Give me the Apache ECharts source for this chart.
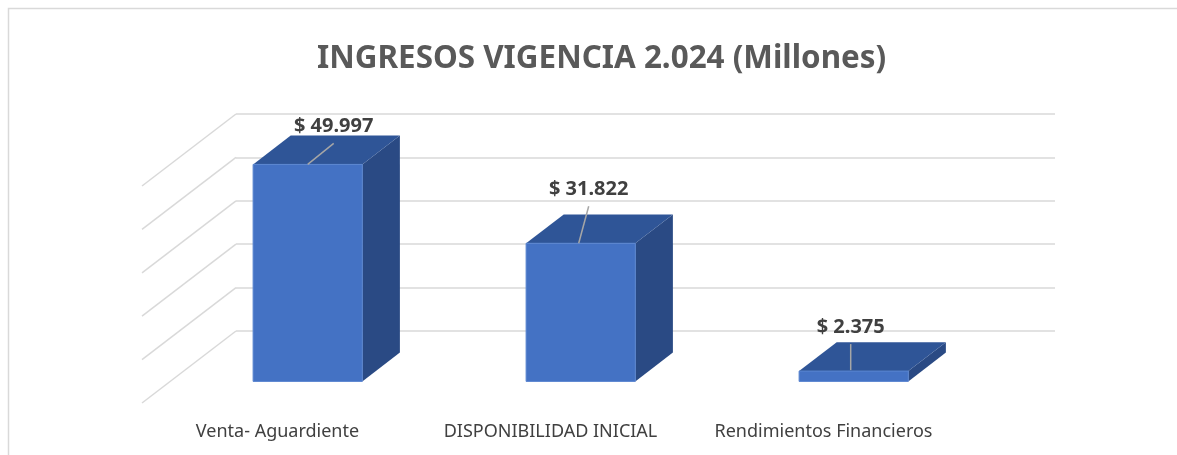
<!DOCTYPE html>
<html>
<head>
<meta charset="utf-8">
<script src="https://cdn.jsdelivr.net/npm/echarts@6/dist/echarts.min.js"></script>
<style>
  html, body { margin: 0; padding: 0; background: #fff; }
  #main { width: 1177px; height: 455px; }
</style>
</head>
<body>
<div id="main"></div>
<script>
// datos del grafico
const categories = ['Venta- Aguardiente', 'DISPONIBILIDAD INICIAL', 'Rendimientos Financieros'];
const values = [49997, 31822, 2375];
const valueLabels = ['$ 49.997', '$ 31.822', '$ 2.375'];
const ticks = [0, 10000, 20000, 30000, 40000, 50000];

// proyeccion 3D (pared del fondo -> frente)
const depth = [-94, 72];
const barFront = 0.7, barBack = 0.3;
// posicion de las etiquetas respecto al borde superior del frente
const labelOffsets = [[26, -38], [8, -54], [-3, -44]];
const leaderStart = [[0, 0], [-2, 0], [-3, -1]];

const chart = echarts.init(document.getElementById('main'));

function off(t) { return [depth[0] * t, depth[1] * t]; }

function renderBar(params, api) {
  const i = api.value(0), v = api.value(1);
  const top = api.coord([i, v]);
  const base = api.coord([i, 0]);
  const bw = api.size([1, 0])[0] / 2.5;
  const f = off(barFront), b = off(barBack);
  const xl = top[0] - bw / 2 + 1, xr = top[0] + bw / 2 + 1;
  const tF = top[1] + f[1], tB = top[1] + b[1];
  const bF = base[1] + f[1], bB = base[1] + b[1];
  const lo = labelOffsets[i];
  const ax = top[0] + 1 + f[0] + leaderStart[i][0], ay = tF + leaderStart[i][1];
  const lx = top[0] + 1 + f[0] + lo[0], ly = tF + lo[1];
  return {
    type: 'group',
    children: [
      { type: 'polygon', shape: { points: [[xr + f[0], tF], [xr + b[0], tB], [xr + b[0], bB], [xr + f[0], bF]] },
        style: { fill: '#2a4a84' } },
      { type: 'polygon', shape: { points: [[xl + f[0], tF], [xr + f[0], tF], [xr + b[0], tB], [xl + b[0], tB]] },
        style: { fill: '#2f5597' } },
      { type: 'rect', shape: { x: xl + f[0], y: tF, width: bw, height: bF - tF },
        style: { fill: '#4472c4', stroke: '#5a85d0', lineWidth: 1 } },
      { type: 'line', shape: { x1: ax, y1: ay, x2: lx, y2: ly + 17 },
        style: { stroke: '#a6a6a6', lineWidth: 1.5 } },
      { type: 'text', x: lx, y: ly,
        style: { text: valueLabels[i], fill: '#404040', font: 'bold 20px "Noto Sans"', align: 'center', verticalAlign: 'middle' } },
      { type: 'text', x: base[0] + depth[0] - 1, y: base[1] + depth[1] + 29,
        style: { text: categories[i], fill: '#404040', font: '18px "Noto Sans"', align: 'center', verticalAlign: 'middle' } }
    ]
  };
}

function renderDiag(params, api) {
  const p = api.coord([0, api.value(0)]);
  const x0 = params.coordSys.x;
  return {
    type: 'line',
    shape: { x1: x0, y1: p[1], x2: x0 + depth[0], y2: p[1] + depth[1] },
    style: { stroke: '#d9d9d9', lineWidth: 1.5 }
  };
}

chart.setOption({
  animation: false,
  backgroundColor: '#fff',
  title: {
    text: 'INGRESOS VIGENCIA 2.024 (Millones)',
    left: 312, top: 39,
    textStyle: { fontFamily: 'Noto Sans', fontWeight: 'bold', fontSize: 31.4, color: '#595959' }
  },
  graphic: [{
    type: 'rect', shape: { x: 8.5, y: 8.5, width: 1200, height: 500 },
    style: { fill: 'none', stroke: '#d9d9d9', lineWidth: 1.5 }, silent: true
  }],
  grid: { left: 236, right: 122, top: 114, bottom: 124 },
  xAxis: {
    type: 'category', data: categories,
    axisLine: { show: false }, axisTick: { show: false }, axisLabel: { show: false }
  },
  yAxis: {
    type: 'value', min: 0, max: 50000, interval: 10000,
    axisLine: { show: false }, axisTick: { show: false }, axisLabel: { show: false },
    splitLine: { lineStyle: { color: '#d9d9d9', width: 1.5 } }
  },
  series: [
    { type: 'custom', renderItem: renderDiag, data: ticks.map(t => [t]), encode: { y: 0 }, silent: true },
    { type: 'custom', renderItem: renderBar, data: values.map((v, i) => [i, v]), encode: { x: 0, y: 1 } }
  ]
});
</script>
</body>
</html>
